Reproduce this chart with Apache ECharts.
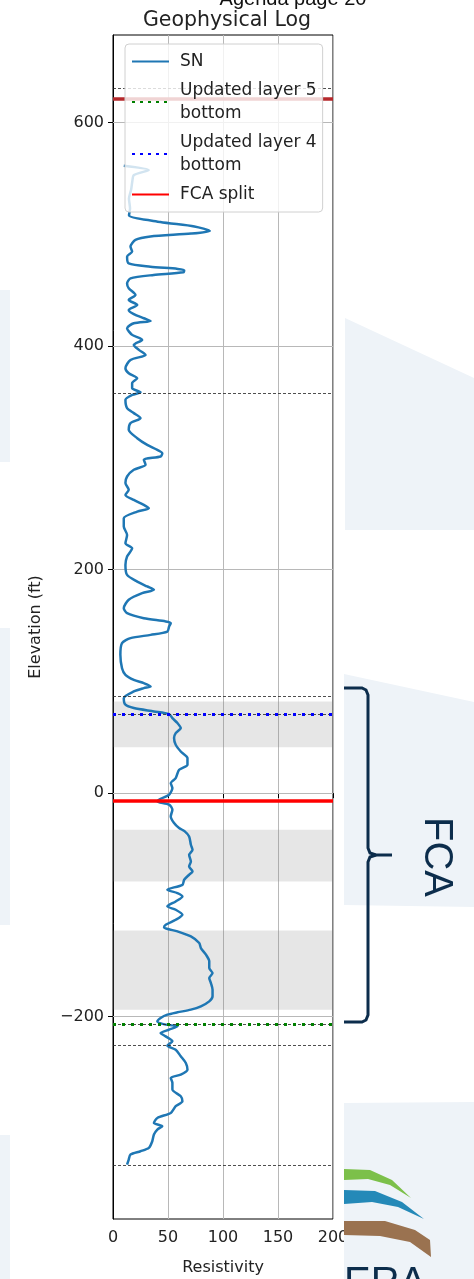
<!DOCTYPE html>
<html>
<head>
<meta charset="utf-8">
<script src="https://cdn.jsdelivr.net/npm/echarts@6/dist/echarts.min.js"></script>
<style>
html, body { margin: 0; padding: 0; background: #fff; }
#chart { width: 474px; height: 1279px; }
</style>
</head>
<body>
<div id="chart"></div>
<script>
// SN log (elevation ft, resistivity)
var snElevation = [
  561.4, 557.5, 553, 547, 540, 532, 523, 517, 511, 507, 503, 500.6, 498, 495, 489, 484.5,
  480, 474, 471, 468, 466, 463.6, 460.6, 456, 451.7, 445.7, 441.3, 436.8, 432.3, 428.5, 424.9,
  422.5, 420.4, 416, 410, 405.5, 401, 396.6, 392.1, 387.6, 380.2, 375.7, 371.2, 366.8, 362.3,
  358.7, 356.3, 351.9, 344.4, 340, 335.5, 331, 325.1, 317.6, 311.6, 307.2, 304.2, 301.2, 298.3,
  293.8, 289.3, 283.3, 277.4, 271.4, 266.8, 262.3, 257.9, 254.9, 251.9, 246, 238.5, 231, 223.6,
  219.1, 211.7, 204.2, 195.3, 189.3, 184.9, 181.9, 178.9, 173, 165.5, 161, 156.5, 153.6, 152.1,
  149.1, 144.6, 141.6, 138.7, 134.2, 123.8, 111.8, 105.9, 101.4, 98.4, 95.5, 94, 91, 85, 79.1,
  76.1, 73.1, 70.7, 67.1, 62.7, 58.2, 53.7, 49.3, 43.3, 37.3, 31.4, 25.4, 20.9, 13.5, 9, 4.6,
  -1.4, -5, -7.4, -10.3, -14.8, -20.8, -26.7, -31.2, -34, -38.8, -46.2, -50.7, -55.2, -61.1,
  -65.6, -70, -73, -77.5, -82, -86.4, -89.4, -92.4, -96.9, -101.3, -104.3, -108.8, -113.3,
  -117.7, -120.1, -123.7, -128.2, -134.1, -138.6, -144.5, -150.5, -156.5, -161, -165.4, -169.9,
  -175.8, -181.8, -186.3, -190.7, -193.7, -196.1, -198.2, -201.2, -204.2, -207.1, -208.6,
  -211.6, -214.6, -217.6, -222, -225.9, -229.5, -235.4, -241.4, -247.4, -251.8, -254.8, -259.3,
  -265.2, -271.2, -275.7, -280.1, -286.1, -290.6, -295, -298, -301, -305.5, -311.4, -317.4,
  -320.4, -323.3, -327.8, -332.3
];
var snResistivity = [
  9.8, 32.5, 19, 17.5, 16.5, 14.5, 15.5, 14.5, 43, 74, 88, 71, 34, 20.4, 15.9, 17.4,
  12.8, 14.3, 34, 64.7, 64, 37, 15.9, 12.8, 14.3, 20.4, 14.3, 22, 14.3, 18.9, 28,
  34.2, 18.9, 12.8, 17.4, 26.5, 18.9, 23.5, 29.6, 15.9, 11.3, 14.3, 22, 17.4, 17.4,
  25, 17.4, 11.3, 12.8, 18.9, 25, 15.9, 14.3, 22, 31.1, 40.3, 44.8, 43.3, 28,
  29.6, 18.9, 12.8, 11.3, 14.3, 11.3, 18.9, 28, 32.6, 22, 9.8, 9.8, 12.8, 11.3,
  17.4, 12.8, 11.3, 12.8, 22, 31.1, 37.2, 26.5, 14.3, 9.8, 12.8, 28, 47.9, 52.5,
  51, 49.4, 34.2, 15.9, 8.2, 6.7, 8.2, 11.3, 18.9, 28, 34.2, 28, 18.9, 9.8, 11.3,
  18.9, 37.2, 51, 54, 58.6, 61.6, 57, 55.5, 57, 61.6, 67.7, 67.7, 60.1, 57, 52.5, 54,
  51, 43.3, 40.3, 51, 54, 52.5, 55.5, 60.1, 65, 69.2, 70.8, 72.3, 69.2, 70.8,
  69.2, 72.3, 69.2, 64.7, 63.1, 49.4, 58.6, 63.1, 57, 49.4, 57, 63.1, 57,
  47.9, 46.4, 58.6, 70.8, 78.4, 79.9, 84.5, 87.5, 87.5, 90.5, 87.5, 89,
  90.5, 90.5, 87.5, 79.9, 70.8, 58.6, 49.4, 43.3, 40.3, 47.9, 58.6,
  51, 43.3, 47.9, 54, 49.4, 57, 61.6, 66.2, 67.7, 61.6, 52.5, 54,
  54, 61.6, 63.1, 57, 52.5, 40.3, 37.2, 44.8, 40.3, 37.2, 35.7, 32.6,
  25, 15.9, 14.3, 12.8
];

var yTicks = [600, 400, 200, 0, -200];
var elevationRange = [-381, 678.3];
var resistivityRange = [0, 200];

// reference horizons (elevation)
var dashedHorizons = [630.6, 358, 86.8, 70.7, -207.2, -225.4, -332.5];
var layer5Bottom = [-207.2];
var layer4Bottom = [70.7];
var fcaSplit = [-7];
var fcaSplitUpper = [621];
var shadedBands = [[82, 41], [-32.8, -79], [-122.9, -193.8]];

var snData = snElevation.map(function (e, i) { return [snResistivity[i], e]; });

var chart = echarts.init(document.getElementById('chart'));
var navy = '#0c2d4c';
var panel = '#eef3f8';

chart.setOption({
  animation: false,
  backgroundColor: '#fff',
  title: {
    text: 'Geophysical Log',
    left: 222,
    top: 5,
    textAlign: 'center',
    textStyle: { fontFamily: 'DejaVu Sans', fontSize: 20.5, fontWeight: 'normal', color: '#222' }
  },
  grid: {
    left: 113, right: 141, top: 35, bottom: 60,
    outerBoundsMode: 'none',
    show: true, borderColor: '#000', borderWidth: 1, backgroundColor: 'transparent'
  },
  legend: {
    orient: 'vertical',
    left: 125,
    top: 44,
    z: 10,
    padding: [6, 6, 6, 6],
    itemGap: 6,
    itemWidth: 37,
    itemHeight: 14,
    backgroundColor: 'rgba(255,255,255,0.8)',
    borderColor: '#d0d0d0',
    borderWidth: 1,
    borderRadius: 4,
    itemStyle: { opacity: 0 },
    textStyle: { fontFamily: 'DejaVu Sans', fontSize: 17, lineHeight: 23, color: '#222', padding: [0, 0, 0, 6] },
    formatter: function (name) { return name.replace(' bottom', '\nbottom'); },
    data: ['SN', 'Updated layer 5 bottom', 'Updated layer 4 bottom', 'FCA split']
  },
  xAxis: {
    type: 'value',
    min: resistivityRange[0],
    max: resistivityRange[1],
    interval: 50,
    name: 'Resistivity',
    nameLocation: 'middle',
    nameGap: 41,
    nameTextStyle: { fontFamily: 'DejaVu Sans', fontSize: 16, color: '#222' },
    axisLine: { show: true, lineStyle: { color: '#000', width: 1 } },
    axisTick: { show: true, inside: false, length: 5, lineStyle: { color: '#000' } },
    axisLabel: { fontFamily: 'DejaVu Sans', fontSize: 16, color: '#222', margin: 11 },
    splitLine: { show: true, lineStyle: { color: '#b8b8b8', width: 1 } }
  },
  yAxis: {
    type: 'value',
    min: elevationRange[0],
    max: elevationRange[1],
    name: 'Elevation (ft)',
    nameLocation: 'middle',
    nameRotate: 90,
    nameGap: 69,
    nameTextStyle: { fontFamily: 'DejaVu Sans', fontSize: 16, color: '#222' },
    axisLine: { show: true, lineStyle: { color: '#000', width: 1 } },
    axisTick: { show: true, inside: false, length: 5, customValues: yTicks, lineStyle: { color: '#000' } },
    axisLabel: {
      fontFamily: 'DejaVu Sans', fontSize: 16, color: '#222', margin: 9, customValues: yTicks,
      formatter: function (v) { return v < 0 ? '\u2212' + Math.abs(v) : String(v); }
    },
    splitLine: { show: false }
  },
  series: [
    {
      name: 'grid',
      type: 'line',
      data: [],
      silent: true,
      markLine: {
        z: 1, silent: true, symbol: 'none', label: { show: false },
        lineStyle: { color: '#b8b8b8', width: 1, type: 'solid' },
        data: yTicks.map(function (v) { return { yAxis: v }; })
      },
      markArea: {
        z: 1, silent: true,
        itemStyle: { color: 'rgba(128,128,128,0.2)' },
        data: shadedBands.map(function (b) { return [{ yAxis: b[0] }, { yAxis: b[1] }]; })
      }
    },
    {
      name: 'SN',
      type: 'line',
      z: 3,
      data: snData,
      symbol: 'none',
      smooth: 0.25,
      color: '#1f77b4',
      lineStyle: { color: '#1f77b4', width: 2.5 }
    },
    {
      name: 'horizons',
      type: 'line',
      data: [],
      markLine: {
        z: 4, silent: true, symbol: 'none', label: { show: false },
        lineStyle: { color: '#222', width: 0.8, type: [3, 2] },
        data: dashedHorizons.map(function (v) { return { yAxis: v }; })
      }
    },
    {
      name: 'Updated layer 5 bottom',
      type: 'line',
      data: [],
      symbol: 'none',
      color: '#008000',
      lineStyle: { color: '#008000', width: 3, type: [3, 5] },
      markLine: {
        z: 5, silent: true, symbol: 'none', label: { show: false },
        lineStyle: { color: '#008000', width: 3, type: [3, 6] },
        data: layer5Bottom.map(function (v) { return { yAxis: v }; })
      }
    },
    {
      name: 'Updated layer 4 bottom',
      type: 'line',
      data: [],
      symbol: 'none',
      color: '#0000ff',
      lineStyle: { color: '#0000ff', width: 3, type: [3, 5] },
      markLine: {
        z: 5, silent: true, symbol: 'none', label: { show: false },
        lineStyle: { color: '#0000ff', width: 3, type: [3, 6] },
        data: layer4Bottom.map(function (v) { return { yAxis: v }; })
      }
    },
    {
      name: 'FCA split',
      type: 'line',
      data: [],
      symbol: 'none',
      color: '#ff0000',
      lineStyle: { color: '#ff0000', width: 3.5 },
      markLine: {
        z: 5, silent: true, symbol: 'none', label: { show: false },
        lineStyle: { color: '#ff0000', width: 3.5, type: 'solid' },
        data: fcaSplit.map(function (v) { return { yAxis: v }; })
          .concat(fcaSplitUpper.map(function (v) { return { yAxis: v, lineStyle: { color: '#b5282b' } }; }))
      }
    }
  ],
  graphic: [
    // slide background panels
    { type: 'rect', z: -10, shape: { x: 0, y: 290, width: 10, height: 172 }, style: { fill: panel } },
    { type: 'rect', z: -10, shape: { x: 0, y: 628, width: 10, height: 297 }, style: { fill: panel } },
    { type: 'rect', z: -10, shape: { x: 0, y: 1135, width: 10, height: 144 }, style: { fill: panel } },
    { type: 'polygon', z: -10, shape: { points: [[345, 318], [474, 378], [474, 530], [345, 530]] }, style: { fill: panel } },
    { type: 'polygon', z: -10, shape: { points: [[344, 674], [474, 702], [474, 907], [344, 905]] }, style: { fill: panel } },
    // bottom panel sits over the chart, clipping the last x label like the slide does
    { type: 'polygon', z: 50, shape: { points: [[344, 1103], [474, 1102], [474, 1279], [344, 1279]] }, style: { fill: panel } },
    // logo arcs
    { type: 'polygon', z: 51, shape: { points: [[344, 1169], [370, 1170], [392, 1180], [411, 1198], [390, 1185], [368, 1179], [344, 1180]] }, style: { fill: '#7cc04a' } },
    { type: 'polygon', z: 51, shape: { points: [[344, 1190], [375, 1191], [402, 1202], [424, 1219], [398, 1207], [372, 1202], [344, 1204]] }, style: { fill: '#2489b8' } },
    { type: 'polygon', z: 51, shape: { points: [[344, 1221], [385, 1221], [415, 1230], [430, 1240], [431, 1257], [410, 1242], [380, 1236], [344, 1235]] }, style: { fill: '#9a7250' } },
    { type: 'text', z: 51, left: 344, top: 1264, style: { text: 'ERA', fill: navy, fontSize: 40, fontFamily: 'Liberation Sans' } },
    // FCA bracket
    {
      type: 'polyline', z: 20,
      shape: { points: [[344, 688], [362, 688], [366, 690], [368, 695], [368, 848], [370, 853], [376, 855], [392, 855]] },
      style: { stroke: navy, lineWidth: 3, fill: null }
    },
    {
      type: 'polyline', z: 20,
      shape: { points: [[376, 855], [370, 857], [368, 862], [368, 1015], [366, 1020], [362, 1022], [344, 1022]] },
      style: { stroke: navy, lineWidth: 3, fill: null }
    },
    {
      type: 'text', z: 20, x: 436, y: 857, rotation: -Math.PI / 2,
      style: { text: 'FCA', fill: navy, fontSize: 40, fontFamily: 'Liberation Sans', align: 'center', verticalAlign: 'middle' }
    },
    // page header, cut at the top edge
    {
      type: 'text', z: 20, x: 293, y: -11,
      style: { text: 'Agenda page 20', fill: '#111', fontSize: 20, fontFamily: 'Liberation Sans', align: 'center', verticalAlign: 'top' }
    }
  ]
});
</script>
</body>
</html>
